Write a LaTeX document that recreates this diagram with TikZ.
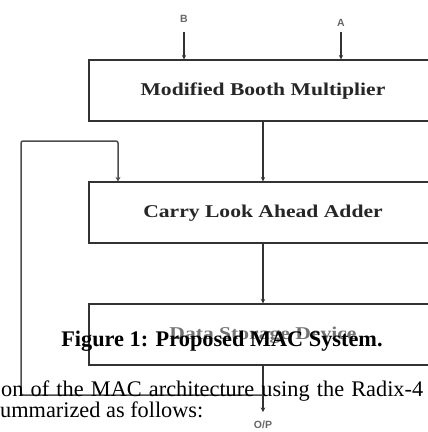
\documentclass[tikz,border=0pt]{standalone}
\usepackage{fontspec}
\setmainfont{Liberation Serif}
\setsansfont{Liberation Sans}
\usetikzlibrary{arrows.meta}
\tikzset{
  blockbox/.style={draw=black!80, line width=1.1pt, minimum width=348pt, minimum height=61pt, inner sep=0pt},
  blocklabel/.style={font=\bfseries\fontsize{18}{20}\selectfont, xscale=1.2, text=black!85},
  wire/.style={draw=black!80, line width=1.1pt, -{Stealth[length=4.5pt,width=4.5pt]}},
  loopwire/.style={draw=black!70, line width=1.5pt, rounded corners=2pt, -{Stealth[length=4.5pt,width=5pt]}},
  pinlabel/.style={font=\sffamily\bfseries\fontsize{10.5}{12}\selectfont, text=black!60},
  pagetext/.style={font=\fontsize{22.3}{24}\selectfont, inner sep=0pt},
}
\begin{document}
\begin{tikzpicture}[x=1pt, y=-1pt]
\useasboundingbox (0,0) rectangle (428,432);
\clip (0,0) rectangle (428,432);
% the three stages of the MAC unit
\node[blockbox] (mbm) at (263,90.5) {};
\node[blocklabel] (mbmt) at (263,91) {Modified Booth Multiplier};
\node[blockbox] (cla) at (263,212.5) {};
\node[blocklabel] (clat) at (263,213) {Carry Look Ahead Adder};
\node[blockbox] (dsd) at (263,334.5) {};
\node[blocklabel, text=black!55] (dsdt) at (263,335) {Data Storage Device};
% operand inputs
\node[pinlabel] (b) at (184,19) {B};
\node[pinlabel] (a) at (341,23) {A};
\coordinate (bin) at (184,32);
\coordinate (ain) at (341,32);
\draw[wire] (bin) -- (bin |- mbm.north);
\draw[wire] (ain) -- (ain |- mbm.north);
% data path
\draw[wire] (mbm.south) -- (cla.north);
\draw[wire] (cla.south) -- (dsd.north);
% output
\coordinate (out) at (263,412);
\draw[wire] (dsd.south) -- (out);
\node[pinlabel] (op) at (263,425) {O/P};
% accumulator feedback
\coordinate (fb0) at (263,395);
\coordinate (fb1) at (21,395);
\coordinate (fb2) at (21,141);
\coordinate (fb3) at (118,141);
\draw[loopwire] (fb0) -- (fb1) -- (fb2) -- (fb3) -- (fb3 |- cla.north);
% caption and surrounding page text
\node[pagetext, anchor=base] (cap) at (222,346) {\bfseries Figure 1: Proposed MAC System.};
\node[pagetext, anchor=base west] (l1) at (1,396) {\makebox[422pt][s]{on of the MAC architecture using the Radix-4}};
\node[pagetext, anchor=base west] (l2) at (0,417) {ummarized as follows:};
\end{tikzpicture}
\end{document}
